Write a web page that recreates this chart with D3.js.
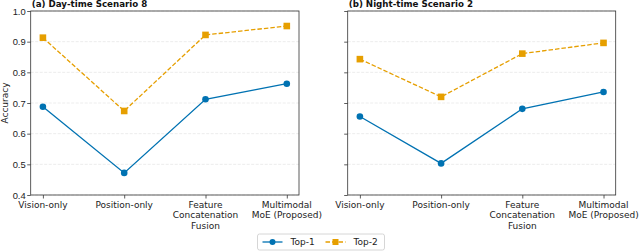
<!DOCTYPE html>
<html>
<head>
<meta charset="utf-8">
<script src="https://cdn.jsdelivr.net/npm/d3@7"></script>
<style>
  body { margin: 0; background: #fff; }
  svg { display: block; font-family: "DejaVu Sans", sans-serif; }
</style>
</head>
<body>
<svg width="640" height="251"></svg>
<script>
var categories = ["Vision-only", "Position-only", "Feature\nConcatenation\nFusion", "Multimodal\nMoE (Proposed)"]
var dayTop1 = [0.688, 0.472, 0.712, 0.763]
var dayTop2 = [0.913, 0.674, 0.922, 0.951]
var nightTop1 = [0.656, 0.503, 0.681, 0.736]
var nightTop2 = [0.843, 0.720, 0.861, 0.896]
var yTicks = [0.4, 0.5, 0.6, 0.7, 0.8, 0.9, 1.0]

var blue = "#0072b2", orange = "#e69f00"
var svg = d3.select("svg")

var panels = [
  {title: "(a) Day-time Scenario 8", top1: dayTop1, top2: dayTop2, left: 30.7, right: 299, labels: true},
  {title: "(b) Night-time Scenario 2", top1: nightTop1, top2: nightTop2, left: 347.7, right: 615.7, labels: false}
]
var plotTop = 11, plotBottom = 195

panels.forEach(function(p) {
  var x = d3.scaleLinear().domain([-0.15, 3.15]).range([p.left, p.right])
  var y = d3.scaleLinear().domain([0.4, 1.0]).range([plotBottom, plotTop])
  var g = svg.append("g")

  // grid
  g.append("g").selectAll("line")
    .data(yTicks)
    .enter().append("line")
      .attr("x1", p.left).attr("x2", p.right)
      .attr("y1", d => y(d)).attr("y2", d => y(d))
      .attr("stroke", "#b0b0b0")
      .attr("stroke-opacity", 0.3)
      .attr("stroke-width", 0.8)
      .attr("stroke-dasharray", "3,1.5")

  // y axis
  var ya = g.append("g")
    .attr("transform", `translate(${p.left},0)`)
    .call(d3.axisLeft(y).tickValues(yTicks).tickSize(3.5).tickPadding(1.5).tickFormat(p.labels ? d3.format(".1f") : ""))
  ya.select(".domain").remove()
  ya.selectAll("line").attr("stroke", "#333").attr("stroke-width", 0.8)
  ya.selectAll("text").attr("font-size", "9.4px").attr("fill", "#222")

  // x axis
  var xa = g.append("g")
    .attr("transform", `translate(0,${plotBottom})`)
    .call(d3.axisBottom(x).tickValues([0, 1, 2, 3]).tickSize(3.5).tickFormat(""))
  xa.select(".domain").remove()
  xa.selectAll("line").attr("stroke", "#333").attr("stroke-width", 0.8)
  categories.forEach(function(c, i) {
    var t = g.append("text")
      .attr("text-anchor", "middle")
      .attr("font-size", "9px")
      .attr("fill", "#222")
    c.split("\n").forEach(function(line, j) {
      t.append("tspan").attr("x", x(i)).attr("y", 208 + j * 10.3).text(line)
    })
  })

  // frame
  g.append("rect")
    .attr("x", p.left).attr("y", plotTop)
    .attr("width", p.right - p.left).attr("height", plotBottom - plotTop)
    .attr("fill", "none").attr("stroke", "#333").attr("stroke-width", 0.8)

  // title
  g.append("text")
    .attr("x", p.left + 1).attr("y", 7.3)
    .attr("font-size", "8.7px").attr("font-weight", "bold").attr("fill", "#111")
    .text(p.title)

  var line = d3.line().x((d, i) => x(i)).y(d => y(d))

  g.append("path")
    .attr("d", line(p.top2))
    .attr("fill", "none").attr("stroke", orange).attr("stroke-width", 1.3)
    .attr("stroke-dasharray", "4.5,2")
  g.append("g").selectAll("rect")
    .data(p.top2)
    .enter().append("rect")
      .attr("x", (d, i) => x(i) - 3.3).attr("y", d => y(d) - 3.3)
      .attr("width", 6.6).attr("height", 6.6)
      .attr("fill", orange)

  g.append("path")
    .attr("d", line(p.top1))
    .attr("fill", "none").attr("stroke", blue).attr("stroke-width", 1.3)
  g.append("g").selectAll("circle")
    .data(p.top1)
    .enter().append("circle")
      .attr("cx", (d, i) => x(i)).attr("cy", d => y(d))
      .attr("r", 3.3)
      .attr("fill", blue)
})

// y label
svg.append("text")
  .attr("transform", "translate(7.5,103) rotate(-90)")
  .attr("text-anchor", "middle")
  .attr("font-size", "9px")
  .attr("fill", "#222")
  .text("Accuracy")

// legend
var leg = svg.append("g").attr("transform", "translate(257.5,234)")
leg.append("rect")
  .attr("width", 127).attr("height", 16).attr("rx", 2)
  .attr("fill", "#fff").attr("stroke", "#ccc").attr("stroke-width", 0.8)
leg.append("line").attr("x1", 5).attr("x2", 25).attr("y1", 8).attr("y2", 8)
  .attr("stroke", blue).attr("stroke-width", 1.3)
leg.append("circle").attr("cx", 15).attr("cy", 8).attr("r", 3).attr("fill", blue)
leg.append("text").attr("x", 33).attr("y", 11.3).attr("font-size", "9px").attr("fill", "#222").text("Top-1")
leg.append("line").attr("x1", 68).attr("x2", 88).attr("y1", 8).attr("y2", 8)
  .attr("stroke", orange).attr("stroke-width", 1.3).attr("stroke-dasharray", "4.5,2")
leg.append("rect").attr("x", 75).attr("y", 5).attr("width", 6).attr("height", 6).attr("fill", orange)
leg.append("text").attr("x", 96).attr("y", 11.3).attr("font-size", "9px").attr("fill", "#222").text("Top-2")
</script>
</body>
</html>
